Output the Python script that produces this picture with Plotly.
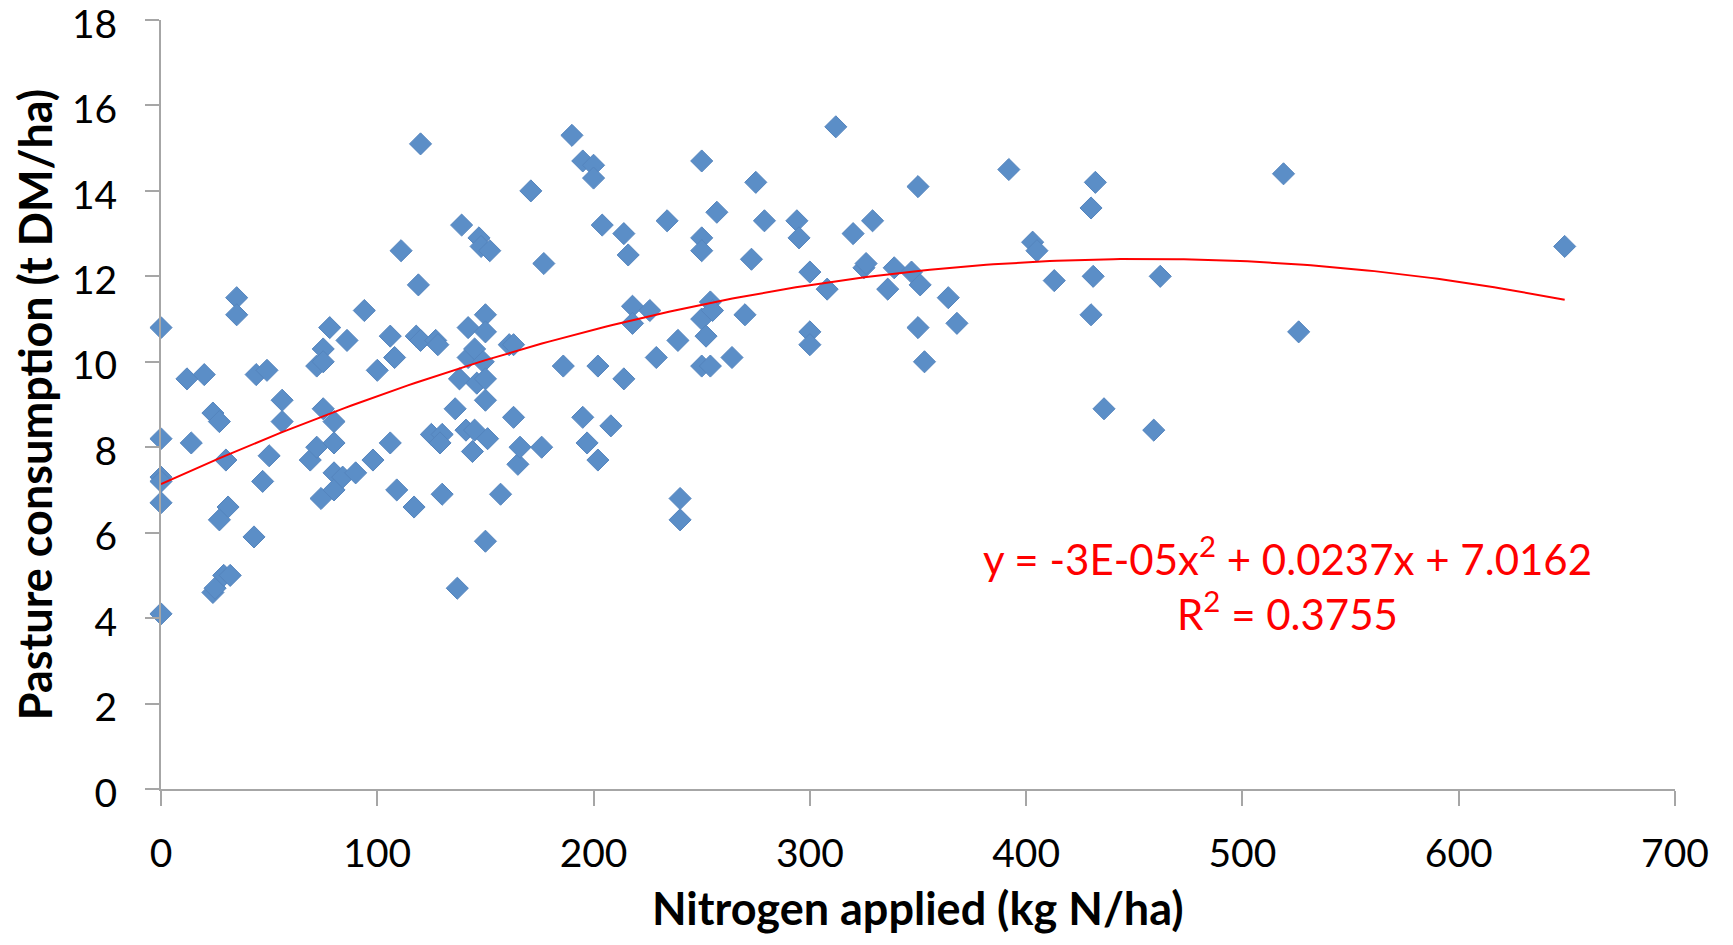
import numpy as np
import plotly.graph_objects as go

# Nitrogen applied (kg N/ha) and pasture consumption (t DM/ha)
nitrogen = [0, 0, 0, 0, 0, 0,
            12, 14, 20, 24, 27, 30, 31, 27,
            24, 25, 29, 32,
            35, 35, 43, 44, 47, 49, 50, 56, 56,
            72, 69, 72, 75, 75, 75, 74, 78, 80, 80, 80, 80, 84, 86, 90, 94, 98, 100,
            106, 106, 108, 109, 111, 117, 119, 118, 120, 120,
            125, 127, 128, 130, 129, 130, 136, 137, 139, 138, 141, 142, 142, 144, 145, 145,
            146, 147, 148, 149, 150, 150, 150, 150, 151, 150, 152, 157, 161, 163, 163, 165,
            166, 171, 177, 176,
            186, 190, 195, 195, 197, 200, 200, 202, 202, 204, 208, 214, 214, 216, 218, 218,
            226, 229, 234, 239, 240, 240,
            250, 250, 250, 250, 250, 252, 254, 254, 255, 257, 264, 270, 273, 275, 279, 294,
            295, 300, 300, 300, 308, 312, 320, 325, 326, 329, 336, 339, 347, 350, 350, 351,
            353, 364, 368,
            392, 403, 405, 413, 430, 430, 431, 432, 436, 459, 462, 519, 526, 649]

consumption = [10.8, 8.2, 7.3, 7.2, 6.7, 4.1,
               9.6, 8.1, 9.7, 8.8, 8.6, 7.7, 6.6, 6.3,
               4.6, 4.7, 5.0, 5.0,
               11.5, 11.1, 5.9, 9.7, 7.2, 9.8, 7.8, 9.1, 8.6,
               9.9, 7.7, 8.0, 10.3, 10.0, 8.9, 6.8, 10.8, 8.6, 8.1, 7.4, 7.0, 7.3, 10.5, 7.4, 11.2, 7.7, 9.8,
               10.6, 8.1, 10.1, 7.0, 12.6, 6.6, 11.8, 10.6, 10.5, 15.1,
               8.3, 10.5, 10.4, 8.3, 8.1, 6.9, 8.9, 4.7, 13.2, 9.6, 8.4, 10.8, 10.1, 7.9, 10.3, 8.4,
               9.5, 12.9, 12.7, 10.0, 11.1, 10.7, 9.6, 9.1, 8.2, 5.8, 12.6, 6.9, 10.4, 10.4, 8.7, 7.6,
               8.0, 14.0, 12.3, 8.0,
               9.9, 15.3, 14.7, 8.7, 8.1, 14.6, 14.3, 9.9, 7.7, 13.2, 8.5, 13.0, 9.6, 12.5, 11.3, 10.9,
               11.2, 10.1, 13.3, 10.5, 6.8, 6.3,
               14.7, 12.9, 12.6, 11.0, 9.9, 10.6, 11.4, 9.9, 11.2, 13.5, 10.1, 11.1, 12.4, 14.2, 13.3, 13.3,
               12.9, 12.1, 10.7, 10.4, 11.7, 15.5, 13.0, 12.2, 12.3, 13.3, 11.7, 12.2, 12.1, 14.1, 10.8, 11.8,
               10.0, 11.5, 10.9,
               14.5, 12.8, 12.6, 11.9, 13.6, 11.1, 12.0, 14.2, 8.9, 8.4, 12.0, 14.4, 10.7, 12.7]

equation_text = 'y = -3E-05x<sup>2</sup> + 0.0237x + 7.0162'
r2_text = 'R<sup>2</sup> = 0.3755'
x_title = '<b>Nitrogen applied (kg N/ha)</b>'
y_title = '<b>Pasture consumption (t DM/ha)</b>'

FONT = 'Lato'
AXIS_GREY = '#A6A6A6'

# polynomial (order 2) trendline, fitted to the points like Excel does
coef = np.polyfit(nitrogen, consumption, 2)
trend_x = np.linspace(0, max(nitrogen), 200)
trend_y = np.polyval(coef, trend_x)

fig = go.Figure()

fig.add_trace(go.Scatter(
    x=nitrogen, y=consumption, mode='markers',
    marker=dict(symbol='diamond', size=17, color='#5B8EC7',
                line=dict(width=1, color='#5585BE')),
    cliponaxis=False,
))

fig.add_trace(go.Scatter(
    x=trend_x, y=trend_y, mode='lines',
    line=dict(color='#FF0000', width=2),
))

fig.add_annotation(x=520.7, y=5.46, text=equation_text, showarrow=False,
                   font=dict(family=FONT, size=42, color='#FF0000'),
                   xanchor='center', yanchor='middle')
fig.add_annotation(x=520.7, y=4.16, text=r2_text, showarrow=False,
                   font=dict(family=FONT, size=42, color='#FF0000'),
                   xanchor='center', yanchor='middle')

# x title as an annotation so it can sit right at the bottom edge like the original
plot_h = 929 - 12 - 148
fig.add_annotation(xref='paper', yref='paper', x=0.5, y=-148 / plot_h,
                   text=x_title, showarrow=False,
                   font=dict(family=FONT, size=45, color='black'),
                   xanchor='center', yanchor='bottom')

# the page body adds an 8px margin, so the figure is a bit smaller than the window
fig.update_layout(
    width=1717, height=929,
    margin=dict(l=153, r=50, t=12, b=148),
    paper_bgcolor='white', plot_bgcolor='white',
    showlegend=False,
    font=dict(family=FONT, color='black'),
    xaxis=dict(
        range=[0, 700], tick0=0, dtick=100,
        showgrid=False, zeroline=False, automargin=False,
        showline=True, linecolor=AXIS_GREY, linewidth=2,
        ticks='outside', ticklen=15, tickwidth=2, tickcolor=AXIS_GREY,
        tickfont=dict(family=FONT, size=39, color='black'),
        ticklabelstandoff=14, ticklabeloverflow='allow',
    ),
    yaxis=dict(
        range=[0, 18], tick0=0, dtick=2,
        showgrid=False, zeroline=False, automargin=False,
        showline=True, linecolor=AXIS_GREY, linewidth=2,
        ticks='outside', ticklen=14, tickwidth=2, tickcolor=AXIS_GREY,
        tickfont=dict(family=FONT, size=39, color='black'),
        ticklabelstandoff=20, ticklabelshift=4, ticklabeloverflow='allow',
        title=dict(text=y_title,
                   font=dict(family=FONT, size=45, color='black'),
                   standoff=11),
    ),
)

fig.write_html('out.html')
